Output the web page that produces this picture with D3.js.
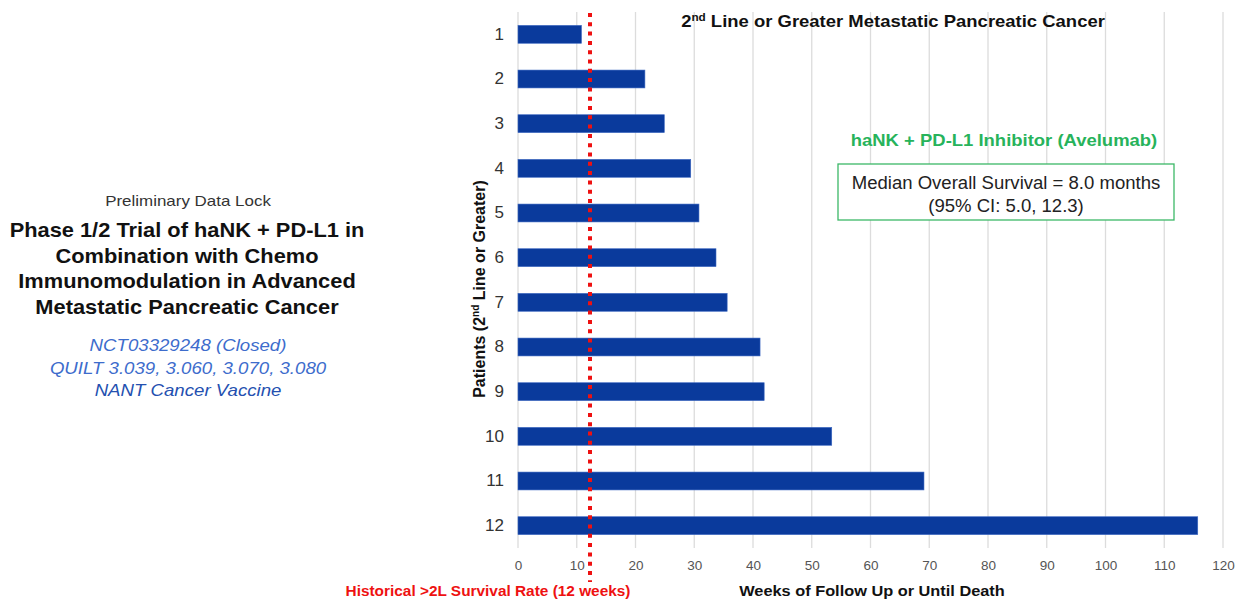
<!DOCTYPE html>
<html><head><meta charset="utf-8">
<script src="https://cdn.jsdelivr.net/npm/d3@7"></script>
<style>body{margin:0;background:#fff;} svg{display:block;font-family:"Liberation Sans",Arial,sans-serif;}</style>
</head><body>
<svg id="chart" width="1237" height="600"></svg>
<script>
const patients = ["1","2","3","4","5","6","7","8","9","10","11","12"];
const weeks = [10.8, 21.6, 24.9, 29.4, 30.8, 33.7, 35.6, 41.2, 41.9, 53.4, 69.1, 115.7];
const xTicks = [0,10,20,30,40,50,60,70,80,90,100,110,120];
const historicalWeeks = 12;
const leftLines = ["Phase 1/2 Trial of haNK + PD-L1 in","Combination with Chemo","Immunomodulation in Advanced","Metastatic Pancreatic Cancer"];
const blueLines = ["NCT03329248 (Closed)","QUILT 3.039, 3.060, 3.070, 3.080","NANT Cancer Vaccine"];
const boxLines = ["Median Overall Survival = 8.0 months","(95% CI: 5.0, 12.3)"];

const svg = d3.select("#chart");
const x = d3.scaleLinear().domain([0,120]).range([518,1223]);
const y = d3.scaleBand().domain(patients).range([12,548]).paddingInner(0.6).paddingOuter(0.3);

// helper: horizontally-stretched text anchored at (px,py)
function stext(px, py, sx, size, opts) {
  const g = svg.append("g").attr("transform", `translate(${px},${py}) scale(${sx},1)`);
  const t = g.append("text").attr("x",0).attr("y",0).attr("text-anchor", opts.anchor || "middle")
    .attr("font-size", size).attr("fill", opts.fill || "#111");
  if (opts.bold) t.attr("font-weight","bold");
  if (opts.italic) t.attr("font-style","italic");
  return t;
}

// gridlines
svg.append("g").selectAll("line").data(xTicks).join("line")
  .attr("x1",d=>x(d)).attr("x2",d=>x(d)).attr("y1",12).attr("y2",548)
  .attr("stroke","#dcdcdc").attr("stroke-width",1.3);

// bars
svg.append("g").selectAll("rect").data(weeks).join("rect")
  .attr("x",x(0)).attr("y",(d,i)=>y(patients[i]))
  .attr("width",d=>x(d)-x(0)).attr("height",y.bandwidth())
  .attr("fill","#0a3a9c").attr("stroke","#3a66c0").attr("stroke-width",0.6);

// x axis labels
const xAxis = d3.axisBottom(x).tickValues(xTicks).tickSize(0).tickPadding(0);
const gx = svg.append("g").attr("transform","translate(0,560)").call(xAxis);
gx.select(".domain").remove();
gx.selectAll("text").attr("font-size",13.5).attr("fill","#555").attr("font-family","Liberation Sans, Arial, sans-serif");

// y axis labels
const yAxis = d3.axisLeft(y).tickSize(0).tickPadding(0);
const gy = svg.append("g").attr("transform","translate(504,0)").call(yAxis);
gy.select(".domain").remove();
gy.selectAll("text").attr("font-size",17).attr("fill","#333").attr("font-family","Liberation Sans, Arial, sans-serif");

// red dotted line
svg.append("line").attr("x1",x(historicalWeeks)+1.5).attr("x2",x(historicalWeeks)+1.5)
  .attr("y1",13).attr("y2",582).attr("stroke","#ee1111").attr("stroke-width",4)
  .attr("stroke-dasharray","4,5.3");

// title
const t = stext(893, 27, 1.12, 16.5, {bold:true});
t.append("tspan").text("2");
t.append("tspan").text("nd").attr("font-size",10.5).attr("dy",-6);
t.append("tspan").text(" Line or Greater Metastatic Pancreatic Cancer").attr("dy",6);

// y axis title
const yt = svg.append("text").attr("transform","translate(485,289) rotate(-90)").attr("text-anchor","middle")
  .attr("font-size",16).attr("font-weight","bold").attr("fill","#111");
yt.append("tspan").text("Patients (2");
yt.append("tspan").text("nd").attr("font-size",10).attr("dy",-6);
yt.append("tspan").text(" Line or Greater)").attr("dy",6);

// x axis title
stext(872, 596, 1.09, 15, {bold:true}).text("Weeks of Follow Up or Until Death");
stext(488, 596, 1.1, 14, {bold:true, fill:"#ee1111"}).text("Historical >2L Survival Rate (12 weeks)");

// green annotation
stext(1004, 146, 1.12, 16.5, {bold:true, fill:"#27b35b"}).text("haNK + PD-L1 Inhibitor (Avelumab)");
svg.append("rect").attr("x",838).attr("y",164).attr("width",336).attr("height",56)
  .attr("fill","#fff").attr("stroke","#3cb868").attr("stroke-width",1.3);
boxLines.forEach((d,i)=>{
  stext(1006, 189+i*23, 1.06, 17.5, {fill:"#222"}).text(d);
});

// left text
stext(188, 206, 1.13, 15, {fill:"#333"}).text("Preliminary Data Lock");
leftLines.forEach((d,i)=>{
  stext(187, 237+i*25.7, 1.12, 19.5, {bold:true, fill:"#111"}).text(d);
});
blueLines.forEach((d,i)=>{
  stext(188, 351+i*22.5, 1.13, 16.5, {italic:true, fill: i==2?"#2450b0":"#3d6ccc"}).text(d);
});
</script>
</body></html>
